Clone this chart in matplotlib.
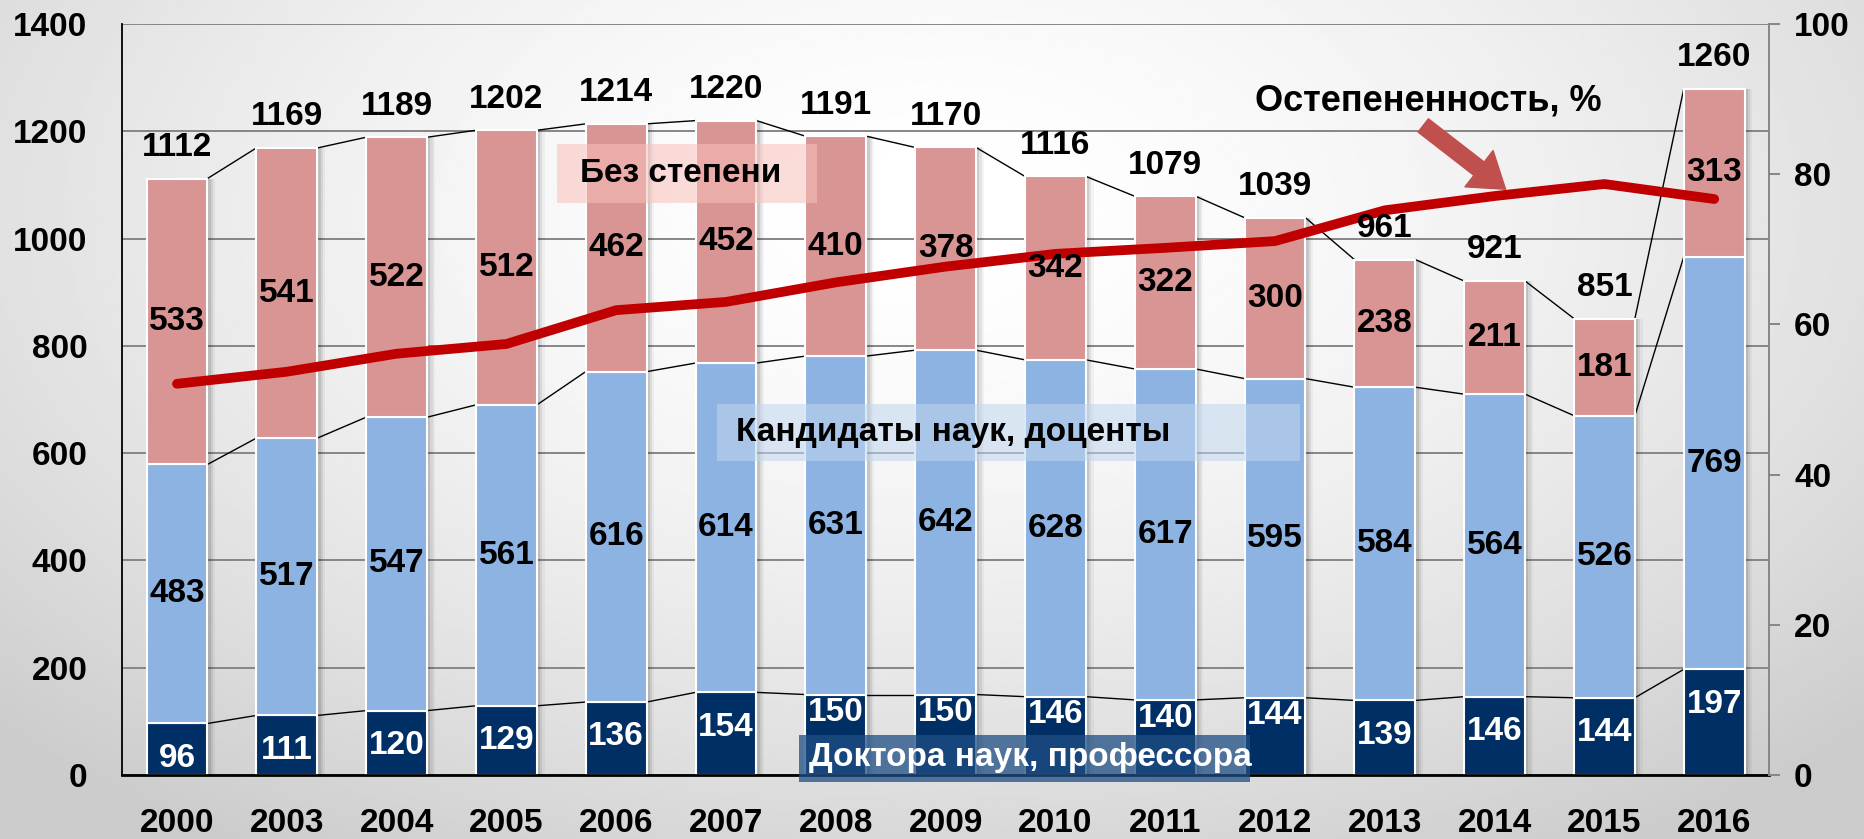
import numpy as np
import matplotlib
matplotlib.use('Agg')
import matplotlib.pyplot as plt
from matplotlib.patches import Rectangle

# данные
years = ['2000', '2003', '2004', '2005', '2006', '2007', '2008', '2009',
         '2010', '2011', '2012', '2013', '2014', '2015', '2016']
doctors = [96, 111, 120, 129, 136, 154, 150, 150, 146, 140, 144, 139, 146, 144, 197]
candidates = [483, 517, 547, 561, 616, 614, 631, 642, 628, 617, 595, 584, 564, 526, 769]
no_degree = [533, 541, 522, 512, 462, 452, 410, 378, 342, 322, 300, 238, 211, 181, 313]
total_labels = [1112, 1169, 1189, 1202, 1214, 1220, 1191, 1170, 1116, 1079, 1039, 961, 921, 851, 1260]
share_pct = [52.1, 53.7, 56.1, 57.4, 61.9, 63.0, 65.6, 67.7, 69.4, 70.2, 71.1, 75.2, 77.1, 78.7, 76.7]

plt.rcParams['font.family'] = ['Liberation Sans', 'DejaVu Sans']
plt.rcParams['font.weight'] = 'bold'
FS = 24

c_doc = '#002F66'
c_cand = '#8DB3E2'
c_none = '#D99594'

fig = plt.figure(figsize=(18.64, 8.39), dpi=100)

# фон с градиентом
bg = fig.add_axes([0, 0, 1, 1])
yy, xx = np.mgrid[-1:1:300j, -1:1:600j]
r = np.sqrt((xx * 0.9) ** 2 + ((yy + 0.5) * 0.7) ** 2)
bg.imshow(np.clip(1 - 0.14 * r ** 1.6, 0.8, 1), cmap='gray', vmin=0, vmax=1,
          aspect='auto', extent=[0, 1, 0, 1])
bg.axis('off')

ax = fig.add_axes([0.0655, 0.0763, 0.8836, 0.895])
ax.patch.set_alpha(0)
x = np.arange(len(years))
w = 0.555

doc = np.array(doctors)
cand = np.array(candidates)
none = np.array(no_degree)
lvl1 = doc
lvl2 = doc + cand
lvl3 = doc + cand + none

# тени
for k, a in enumerate([0.10, 0.07, 0.04]):
    ax.bar(x + 0.03 + 0.02 * k, lvl3, w, color='black', alpha=a, zorder=1, linewidth=0)

ax.bar(x, doc, w, color=c_doc, edgecolor='white', linewidth=1.5, zorder=2)
ax.bar(x, cand, w, bottom=lvl1, color=c_cand, edgecolor='white', linewidth=1.5, zorder=2)
ax.bar(x, none, w, bottom=lvl2, color=c_none, edgecolor='white', linewidth=1.5, zorder=2)

# соединительные линии
for lv in (lvl1, lvl2, lvl3):
    for i in range(len(x) - 1):
        ax.plot([x[i] + w / 2, x[i + 1] - w / 2], [lv[i], lv[i + 1]],
                color='black', lw=1.0, zorder=1.5)

ax.set_xlim(-0.5, len(x) - 0.5)
ax.set_ylim(0, 1400)
ax.set_yticks(range(0, 1401, 200))
ax.yaxis.grid(True, color='#868686', lw=1.4)
ax.set_axisbelow(True)
ax.set_xticks(x)
ax.set_xticklabels(years, fontsize=FS)
ax.tick_params(axis='x', length=0, pad=24)
ax.tick_params(axis='y', length=0, pad=25, labelsize=FS)
ax.spines['top'].set_visible(False)
ax.spines['right'].set_visible(False)
ax.spines['left'].set_linewidth(1.3)
ax.spines['bottom'].set_linewidth(2.0)

ax2 = ax.twinx()
ax2.set_ylim(0, 100)
ax2.set_yticks(range(0, 101, 20))
ax2.tick_params(axis='y', length=8, width=1.4, color='#868686', pad=10, labelsize=FS)
for s in ('top', 'left', 'bottom'):
    ax2.spines[s].set_visible(False)
ax2.spines['right'].set_color('#868686')
ax2.spines['right'].set_linewidth(1.4)

ax2.plot(x, share_pct, color='#C00000', lw=7, solid_capstyle='round',
         solid_joinstyle='round', zorder=3)

# подписи
T = ax.transData
for i in range(len(x)):
    dy = 34 if 6 <= i <= 10 else 65
    ax2.text(x[i], doc[i] - dy, str(doctors[i]), transform=T, color='white',
             ha='center', va='center', fontsize=FS, zorder=6)
    ax2.text(x[i], lvl1[i] + cand[i] / 2, str(candidates[i]), transform=T,
             ha='center', va='center', fontsize=FS, zorder=6)
    ax2.text(x[i], lvl2[i] + none[i] / 2, str(no_degree[i]), transform=T,
             ha='center', va='center', fontsize=FS, zorder=6)
    ax2.text(x[i], lvl3[i] + 58, str(total_labels[i]), transform=T,
             ha='center', va='center', fontsize=FS, zorder=6)

A = ax.transAxes
def tbox(x0, y0, x1, y1, fc, alpha):
    ax2.add_patch(Rectangle((x0, y0), x1 - x0, y1 - y0, transform=A,
                            facecolor=fc, alpha=alpha, lw=0, zorder=5, clip_on=False))

# Без степени
tbox(0.264, 0.762, 0.422, 0.840, '#F8C0B9', 0.55)
ax2.text(0.278, 0.801, 'Без степени', transform=A, ha='left', va='center',
         fontsize=FS, zorder=6)
# Кандидаты
tbox(0.361, 0.418, 0.715, 0.494, '#C1D6EE', 0.55)
ax2.text(0.373, 0.456, 'Кандидаты наук, доценты', transform=A, ha='left',
         va='center', fontsize=FS, zorder=6)
# Доктора
tbox(0.411, -0.009, 0.685, 0.053, '#1F4E85', 0.75)
ax2.text(0.417, 0.023, 'Доктора наук, профессора', transform=A, ha='left',
         va='center', fontsize=FS, color='white', zorder=6)

ax2.text(0.793, 0.897, 'Остепененность, %', transform=A, ha='center',
         va='center', fontsize=26, zorder=6)
ax2.annotate('', xy=(0.840, 0.780), xytext=(0.790, 0.865), xycoords=A,
             textcoords=A,
             arrowprops=dict(arrowstyle='simple,head_length=1.1,head_width=1.5,tail_width=0.55',
                             color='#C0504D', mutation_scale=22, shrinkA=0, shrinkB=0),
             zorder=6)

fig.savefig('out.png', dpi=100)
